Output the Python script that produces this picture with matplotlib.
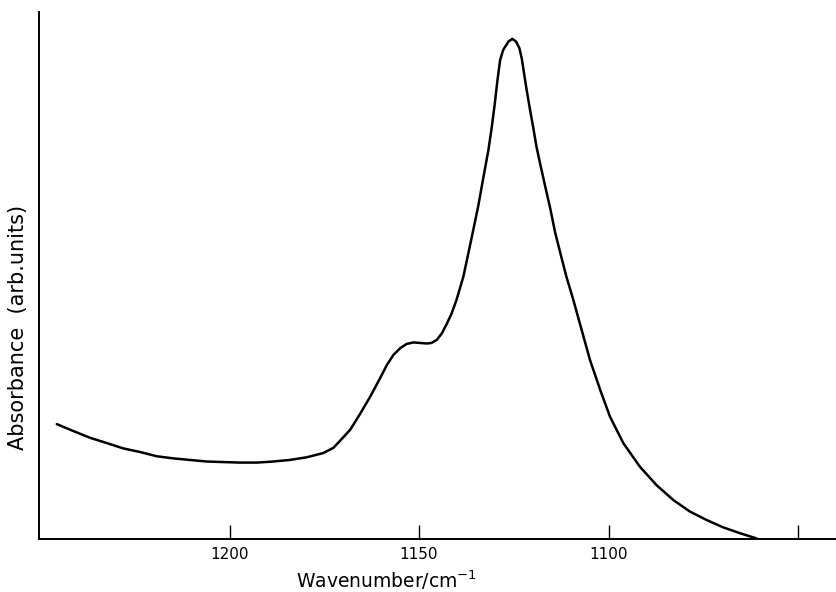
import matplotlib
matplotlib.use('Agg')
import matplotlib.pyplot as plt

# 读取的曲线数据（波数 / 吸光度，任意单位）
wavenumber = [1245.6, 1241.3, 1236.8, 1232.4, 1228.1, 1223.6, 1219.2, 1214.9,
              1210.5, 1206.0, 1201.7, 1197.3, 1192.8, 1188.5, 1184.1, 1179.7,
              1175.3, 1172.6, 1170.9, 1168.2, 1165.6, 1162.9, 1160.3, 1158.5,
              1156.8, 1155.0, 1153.3, 1151.5, 1149.7, 1148.0, 1146.7, 1145.3,
              1144.0, 1142.7, 1141.4, 1140.1, 1138.3, 1137.0, 1135.7, 1134.4,
              1133.0, 1131.7, 1130.8, 1130.0, 1129.3, 1128.6, 1127.8, 1126.4,
              1125.4, 1124.4, 1123.5, 1122.9, 1122.3, 1121.6, 1120.7, 1119.8,
              1119.0, 1118.1, 1116.8, 1115.4, 1114.1, 1112.8, 1111.2, 1109.3,
              1107.1, 1104.9, 1102.2, 1099.6, 1096.1, 1091.7, 1087.3, 1082.9,
              1078.5, 1074.1, 1069.7, 1065.3, 1060.9]
absorbance = [0.218, 0.205, 0.192, 0.182, 0.172, 0.165, 0.157, 0.153,
              0.150, 0.147, 0.146, 0.145, 0.145, 0.147, 0.150, 0.155,
              0.163, 0.173, 0.186, 0.207, 0.237, 0.270, 0.305, 0.330,
              0.349, 0.362, 0.370, 0.373, 0.372, 0.371, 0.372, 0.378,
              0.390, 0.408, 0.428, 0.454, 0.498, 0.542, 0.586, 0.631,
              0.687, 0.738, 0.782, 0.827, 0.871, 0.909, 0.928, 0.944,
              0.949, 0.944, 0.931, 0.912, 0.884, 0.852, 0.814, 0.778,
              0.744, 0.714, 0.672, 0.628, 0.582, 0.545, 0.500, 0.454,
              0.397, 0.340, 0.283, 0.232, 0.182, 0.137, 0.102, 0.074,
              0.052, 0.036, 0.022, 0.011, 0.001]

tick_pos = [1200, 1150, 1100, 1050]
tick_labels = ['1200', '1150', '1100', '']

fig = plt.figure(figsize=(8.37, 5.92), dpi=100)
ax = fig.add_axes([39 / 837, 1 - 539 / 592, 798 / 837, 527 / 592])

ax.plot(wavenumber, absorbance, color='black', linewidth=1.8,
        solid_joinstyle='round', solid_capstyle='round')

ax.set_xlim(1250.3, 1039.7)
ax.set_ylim(0, 1.0)

ax.spines['top'].set_visible(False)
ax.spines['right'].set_visible(False)
ax.spines['left'].set_linewidth(1.4)
ax.spines['bottom'].set_linewidth(1.4)

ax.set_xticks(tick_pos)
ax.set_xticklabels(tick_labels, family=['Liberation Sans Narrow', 'DejaVu Sans'], fontsize=11)
ax.tick_params(axis='x', direction='in', length=10, width=1.0, pad=6)
ax.set_yticks([])

ax.set_xlabel('Wavenumber/cm$^{-1}$', fontsize=13.5)
ax.xaxis.set_label_coords(0.436, -0.056)
ax.set_ylabel('Absorbance  (arb.units)', fontsize=15)
ax.yaxis.set_label_coords(-0.014, 0.402)

fig.savefig('out.png', dpi=100)
